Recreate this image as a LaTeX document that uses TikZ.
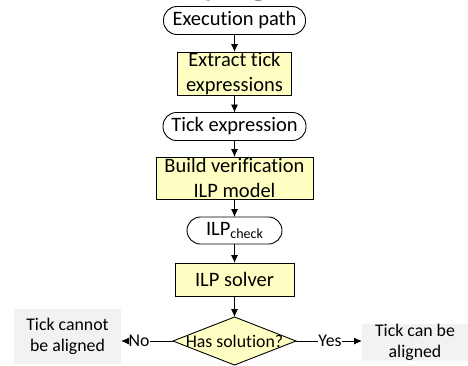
\documentclass[tikz,border=0pt]{standalone}
\usepackage{fontspec}
\setmainfont{Carlito}[Ligatures={NoCommon}]
\newfontfamily\titlefont{Liberation Serif}
\usetikzlibrary{arrows.meta,shapes.geometric}
\definecolor{procfill}{RGB}{255,255,196}
\definecolor{endfill}{RGB}{242,242,242}

\begin{document}
\begin{tikzpicture}[x=1pt,y=-1pt,
  every node/.style={inner sep=0pt, outer sep=0pt},
  bigfont/.style={font=\fontsize{20.5}{25}\selectfont},
  smallfont/.style={font=\fontsize{17.8}{21.5}\selectfont},
  term/.style={draw, line width=0.9pt, rounded corners=13.5pt, bigfont,
    minimum height=28pt, align=center},
  proc/.style={draw, line width=0.9pt, fill=procfill, bigfont, align=center},
  decision/.style={draw, line width=0.9pt, fill=procfill, diamond, smallfont,
    minimum width=123pt, minimum height=48pt},
  outcome/.style={fill=endfill, smallfont, align=center},
  edgelabel/.style={smallfont, inner sep=0.5pt},
  arr/.style={line width=0.9pt, -{Latex[length=8pt,width=7pt]}},
  plain/.style={line width=0.9pt}]

\useasboundingbox (0,0) rectangle (468,365);

% heading above the flow chart, only its descenders reach the page
\begin{scope}
  \clip (0,0) rectangle (468,365);
  \node[anchor=base west, font=\titlefont\bfseries\fontsize{34}{34}\selectfont]
    (heading) at (205,-7) {ying};
\end{scope}

% main flow
\node[term, minimum width=142pt] (exec) at (234.5,20.5) {Execution path};
\node[proc, minimum width=114pt, minimum height=43pt] (extract) at (234.5,73.5)
  {Extract tick\\expressions};
\node[term, minimum width=143pt] (tickexp) at (234.5,126.5) {Tick expression};
\node[proc, minimum width=157pt, minimum height=42pt] (build) at (234.5,178)
  {Build verification\\ILP model};
\node[term, minimum width=95pt, minimum height=27pt] (ilp) at (234.5,230.5)
  {ILP{\fontsize{14}{14}\selectfont\raisebox{-0.18em}{check}}};
\node[proc, minimum width=119pt, minimum height=33pt] (solver) at (234.5,279.5)
  {ILP solver};
\node[decision] (solution) at (234.5,341) {\makebox[0pt]{Has solution?}};

% outcomes
\node[outcome, minimum width=107pt, minimum height=55pt] (fail) at (67.5,336.5)
  {Tick cannot\\be aligned};
\node[outcome, minimum width=106pt, minimum height=37pt] (pass) at (415,342.5)
  {Tick can be\\aligned};

% branch labels
\node[edgelabel] (no) at (139,341) {No};
\node[edgelabel] (yes) at (330,341) {Yes};

% connectors
\draw[arr] (exec) -- (extract);
\draw[arr] (extract) -- (tickexp);
\draw[arr] (tickexp) -- (build);
\draw[arr] (build) -- (ilp);
\draw[arr] (ilp) -- (solver);
\draw[arr] (solver) -- (solution);
\draw[plain] (solution.west) -- (no.east);
\draw[arr] (no.west) -- (fail.east |- no.west);
\draw[plain] (solution.east) -- (yes.west);
\draw[arr] (yes.east) -- (pass.west |- yes.east);
\end{tikzpicture}
\end{document}
